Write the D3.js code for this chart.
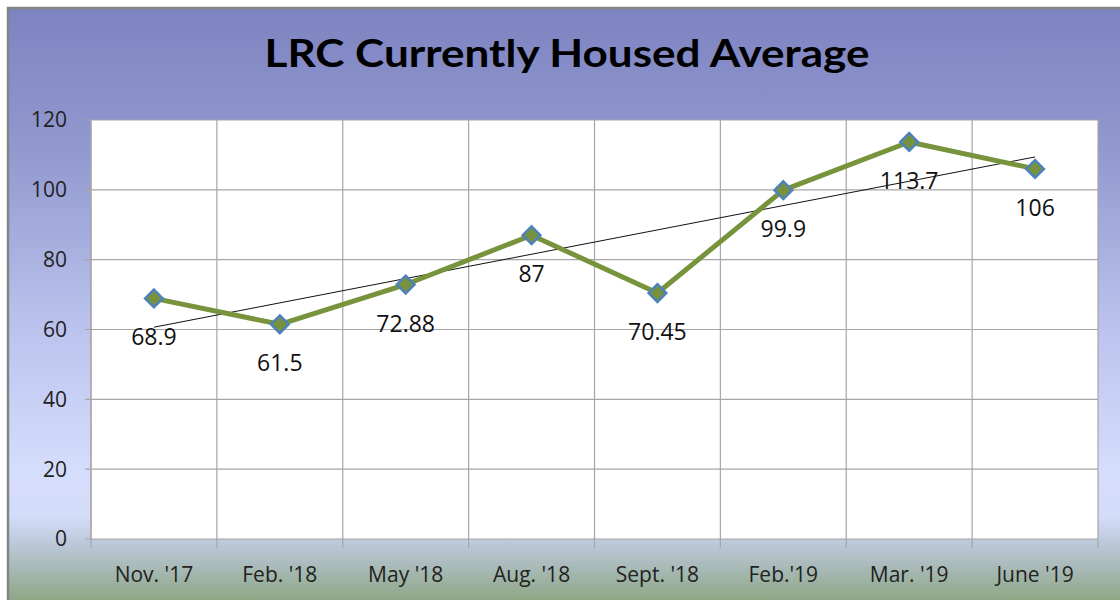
<!DOCTYPE html>
<html><head><meta charset="utf-8">
<script src="https://cdn.jsdelivr.net/npm/d3@7"></script>
<style>html,body{margin:0;padding:0;background:#fff;}svg{display:block;}</style>
</head><body>
<script>
const categories = ["Nov. '17","Feb. '18","May '18","Aug. '18","Sept. '18","Feb.'19","Mar. '19","June '19"];
const values = [68.9, 61.5, 72.88, 87, 70.45, 99.9, 113.7, 106];
const labels = ["68.9","61.5","72.88","87","70.45","99.9","113.7","106"];
const yTicks = [0,20,40,60,80,100,120];
const title = "LRC Currently Housed Average";

const W = 1120, H = 600;
const svg = d3.select("body").append("svg").attr("width", W).attr("height", H);
const defs = svg.append("defs");
const g1 = defs.append("linearGradient").attr("id","bg").attr("x1",0).attr("y1",0).attr("x2",0).attr("y2",1);
[[0,"#7c83c0"],[0.25,"#939ad0"],[0.55,"#bcc4ee"],[0.78,"#d5ddfc"],[0.86,"#d3dcf8"],[0.91,"#b9c6d6"],[1,"#8ea786"]]
  .forEach(([o,c]) => g1.append("stop").attr("offset",o).attr("stop-color",c));
svg.append("rect").attr("x",8).attr("y",8).attr("width",W-8).attr("height",H-8).attr("fill","url(#bg)");
svg.append("path").attr("d",`M8,${H} L8,8 L${W},8`).attr("fill","none").attr("stroke","#858585").attr("stroke-width",2.5);

const m = {l:91, r:1098, t:120, b:539};
const x = d3.scaleBand().domain(categories).range([m.l, m.r]).padding(0);
const y = d3.scaleLinear().domain([0,120]).range([m.b, m.t]);

svg.append("rect").attr("x",m.l).attr("y",m.t).attr("width",m.r-m.l).attr("height",m.b-m.t).attr("fill","#fff");

const grid = svg.append("g").attr("stroke","#a6a6a6").attr("stroke-width",1.2);
yTicks.forEach(t => grid.append("line").attr("x1",m.l-6).attr("x2",m.r).attr("y1",y(t)).attr("y2",y(t)));
categories.forEach(c => grid.append("line").attr("x1",x(c)).attr("x2",x(c)).attr("y1",m.t).attr("y2",m.b+9));
grid.append("line").attr("x1",m.r).attr("x2",m.r).attr("y1",m.t).attr("y2",m.b+9);
grid.append("line").attr("x1",m.l).attr("x2",m.l).attr("y1",m.t).attr("y2",m.b);

const font = "'Open Sans', 'Liberation Sans', sans-serif";
svg.append("g").selectAll("text").data(yTicks).join("text")
  .attr("x",67).attr("y",d=>y(d)).attr("dy","0.35em").attr("text-anchor","end")
  .attr("font-family",font).attr("font-size",21).attr("fill","#222").text(d=>d);
svg.append("g").selectAll("text").data(categories).join("text")
  .attr("x",d=>x(d)+x.bandwidth()/2).attr("y",582).attr("text-anchor","middle")
  .attr("font-family",font).attr("font-size",21).attr("fill","#222").text(d=>d);

// linear trendline (least squares)
const n = values.length;
const xs = values.map((_,i)=>i+1);
const mx = d3.mean(xs), my = d3.mean(values);
const slope = d3.sum(xs.map((xi,i)=>(xi-mx)*(values[i]-my))) / d3.sum(xs.map(xi=>(xi-mx)**2));
const icpt = my - slope*mx;
const cx = i => x(categories[i]) + x.bandwidth()/2;
svg.append("line").attr("x1",cx(0)).attr("y1",y(icpt+slope*1)).attr("x2",cx(n-1)).attr("y2",y(icpt+slope*n))
  .attr("stroke","#111").attr("stroke-width",1);

const line = d3.line().x((d,i)=>cx(i)).y(d=>y(d));
svg.append("path").datum(values).attr("d",line).attr("fill","none").attr("stroke","#77933c").attr("stroke-width",5).attr("stroke-linejoin","round");

svg.append("g").selectAll("path").data(values).join("path")
  .attr("d",d3.symbol().type(d3.symbolDiamond2).size(200))
  .attr("transform",(d,i)=>`translate(${cx(i)},${y(d)})`)
  .attr("fill","#76923c").attr("stroke","#4f81bd").attr("stroke-width",2.5);

svg.append("g").selectAll("text").data(values).join("text")
  .attr("x",(d,i)=>cx(i)).attr("y",d=>y(d)+39).attr("dy","0.35em").attr("text-anchor","middle")
  .attr("font-family",font).attr("font-size",23).attr("fill","#111").text((d,i)=>labels[i]);

svg.append("text").attr("x",567).attr("y",67).attr("text-anchor","middle")
  .attr("font-family","Lato, 'Open Sans', sans-serif").attr("font-weight","bold").attr("font-size",38)
  .attr("textLength",605).attr("lengthAdjust","spacingAndGlyphs").attr("fill","#000").text(title);
</script>
</body></html>
